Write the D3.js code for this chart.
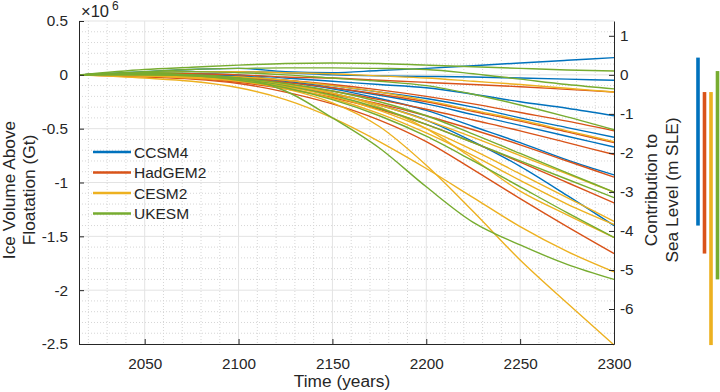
<!DOCTYPE html>
<html>
<head>
<meta charset="utf-8">
<script src="https://cdn.jsdelivr.net/npm/d3@7"></script>
<style>
    body { margin: 0; background: #fff; }
    svg text { font-family: "Liberation Sans", Arial, sans-serif; fill: #262626; }
</style>
</head>
<body>
<div id="chart"></div>
<script>
// sample years shared by every run
const years = [2015, 2050, 2075, 2100, 2125, 2150, 2175, 2200, 2225, 2250, 2275, 2300];

const models = ['CCSM4', 'HadGEM2', 'CESM2', 'UKESM'];
const modelColors = ['#0072BD', '#D95319', '#EDB120', '#77AC30'];

// ice volume above floatation, units of 10^6 Gt
const ccsm4Runs = [
    [0, 0.03, 0.05, 0.06, 0.03, 0.02, 0.04, 0.06, 0.085, 0.11, 0.135, 0.16],
    [0, 0.02, 0.03, 0.03, 0.02, 0.0, -0.01, -0.015, -0.02, -0.03, -0.04, -0.05],
    [0, 0.01, 0.01, 0.0, -0.03, -0.06, -0.09, -0.12, -0.18, -0.25, -0.31, -0.38],
    [0, 0.01, 0.0, -0.01, -0.05, -0.1, -0.16, -0.22, -0.3, -0.4, -0.49, -0.58],
    [0, 0.0, 0.0, -0.02, -0.06, -0.12, -0.19, -0.27, -0.37, -0.47, -0.57, -0.67],
    [0, 0.0, -0.01, -0.03, -0.07, -0.13, -0.22, -0.33, -0.48, -0.63, -0.79, -0.93],
    [0, 0.0, -0.01, -0.04, -0.09, -0.17, -0.28, -0.42, -0.62, -0.85, -1.12, -1.40]
];
const hadgem2Runs = [
    [0, 0.01, 0.01, 0.0, -0.02, -0.03, -0.05, -0.07, -0.09, -0.11, -0.135, -0.16],
    [0, 0.0, -0.01, -0.02, -0.05, -0.09, -0.14, -0.2, -0.27, -0.35, -0.43, -0.52],
    [0, 0.0, -0.01, -0.03, -0.07, -0.12, -0.18, -0.25, -0.34, -0.43, -0.53, -0.63],
    [0, -0.01, -0.02, -0.05, -0.09, -0.15, -0.23, -0.32, -0.42, -0.52, -0.63, -0.74],
    [0, -0.01, -0.02, -0.06, -0.11, -0.18, -0.27, -0.38, -0.51, -0.65, -0.8, -0.95],
    [0, -0.01, -0.03, -0.07, -0.13, -0.21, -0.32, -0.46, -0.63, -0.81, -1.0, -1.19],
    [0, -0.02, -0.04, -0.08, -0.16, -0.27, -0.42, -0.62, -0.88, -1.15, -1.41, -1.66]
];
const cesm2Runs = [
    [0, 0.02, 0.03, 0.03, 0.02, 0.01, -0.01, -0.03, -0.06, -0.09, -0.125, -0.16],
    [0, 0.0, -0.01, -0.02, -0.05, -0.1, -0.16, -0.24, -0.33, -0.42, -0.52, -0.62],
    [0, 0.0, -0.01, -0.04, -0.09, -0.17, -0.28, -0.42, -0.58, -0.75, -0.92, -1.09],
    [0, -0.01, -0.02, -0.05, -0.11, -0.2, -0.33, -0.5, -0.7, -0.92, -1.14, -1.36],
    [0, -0.01, -0.02, -0.05, -0.12, -0.22, -0.36, -0.54, -0.75, -0.98, -1.2, -1.39],
    [0, 0.0, -0.01, -0.04, -0.09, -0.17, -0.3, -0.5, -0.78, -1.08, -1.3, -1.51],
    [0, -0.03, -0.06, -0.12, -0.23, -0.4, -0.62, -0.87, -1.14, -1.41, -1.64, -1.83],
    [0, -0.01, -0.03, -0.06, -0.13, -0.26, -0.48, -0.84, -1.27, -1.72, -2.12, -2.51]
];
const ukesmRuns = [
    [0, 0.05, 0.07, 0.09, 0.105, 0.11, 0.105, 0.09, 0.075, 0.06, 0.045, 0.035],
    [0, 0.03, 0.05, 0.06, 0.065, 0.065, 0.06, 0.05, 0.01, -0.04, -0.09, -0.13],
    [0, 0.02, 0.03, 0.02, 0.0, -0.03, -0.06, -0.1, -0.18, -0.28, -0.39, -0.51],
    [0, 0.01, 0.0, -0.03, -0.08, -0.15, -0.25, -0.38, -0.55, -0.73, -0.91, -1.09],
    [0, 0.0, -0.01, -0.04, -0.1, -0.19, -0.31, -0.46, -0.63, -0.8, -0.97, -1.14],
    [0, 0.0, -0.01, -0.05, -0.12, -0.23, -0.38, -0.57, -0.8, -1.04, -1.28, -1.51],
    [0, 0.01, 0.0, -0.03, -0.15, -0.4, -0.68, -1.04, -1.37, -1.58, -1.76, -1.90]
];
const runsByModel = [ccsm4Runs, hadgem2Runs, cesm2Runs, ukesmRuns];

const xTicks = [2050, 2100, 2150, 2200, 2250, 2300];
const leftTicks = [0.5, 0, -0.5, -1, -1.5, -2, -2.5];
const rightTicks = [1, 0, -1, -2, -3, -4, -5, -6];
const gtPerMetre = 0.3625; // 10^6 Gt of ice per metre of sea level

const width = 720, height = 392;
const margin = { top: 21, right: 106, bottom: 48, left: 79 };
const x0 = margin.left, x1 = width - margin.right;
const y0 = margin.top, y1 = height - margin.bottom;

const svg = d3.select('#chart')
    .append('svg')
    .attr('width', width)
    .attr('height', height);

const x = d3.scaleLinear().domain([2015, 2300]).range([x0, x1]);
const y = d3.scaleLinear().domain([-2.5, 0.5]).range([y1, y0]);
const ySle = d3.scaleLinear().domain([-2.5 / gtPerMetre, 0.5 / gtPerMetre]).range([y1, y0]);

// minor grid (dotted)
const minorX = d3.range(2020, 2300, 10).filter(d => d % 50 !== 0);
const minorY = d3.range(-24, 5).map(d => d / 10).filter(d => Math.round(d * 10) % 5 !== 0);
const grid = svg.append('g');
grid.selectAll('line.mx')
    .data(minorX)
    .join('line')
    .attr('x1', d => x(d)).attr('x2', d => x(d))
    .attr('y1', y0).attr('y2', y1)
    .attr('stroke', '#d6d6d6').attr('stroke-dasharray', '1,2');
grid.selectAll('line.my')
    .data(minorY)
    .join('line')
    .attr('x1', x0).attr('x2', x1)
    .attr('y1', d => y(d)).attr('y2', d => y(d))
    .attr('stroke', '#d6d6d6').attr('stroke-dasharray', '1,2');

// major grid
grid.selectAll('line.gx')
    .data(xTicks.filter(d => d < 2300))
    .join('line')
    .attr('x1', d => x(d)).attr('x2', d => x(d))
    .attr('y1', y0).attr('y2', y1)
    .attr('stroke', '#e3e3e3');
grid.selectAll('line.gy')
    .data(leftTicks.filter(d => d > -2.5))
    .join('line')
    .attr('x1', x0).attr('x2', x1)
    .attr('y1', d => y(d)).attr('y2', d => y(d))
    .attr('stroke', '#e3e3e3');

// runs
const line = d3.line()
    .x((d, i) => x(years[i]))
    .y(d => y(d))
    .curve(d3.curveMonotoneX);

runsByModel.forEach((runs, m) => {
    svg.append('g')
        .selectAll('path')
        .data(runs)
        .join('path')
        .attr('d', line)
        .attr('fill', 'none')
        .attr('stroke', modelColors[m])
        .attr('stroke-width', 1.4);
});

// axes
const axisColor = '#262626';
const tickLen = 5;

const bottomAxis = svg.append('g')
    .attr('transform', `translate(0,${y1})`)
    .call(d3.axisBottom(x).tickValues(xTicks).tickSizeInner(-tickLen).tickSizeOuter(0).tickPadding(14)
        .tickFormat(d3.format('d')));
const leftAxis = svg.append('g')
    .attr('transform', `translate(${x0},0)`)
    .call(d3.axisLeft(y).tickValues(leftTicks).tickSizeInner(-tickLen).tickSizeOuter(0).tickPadding(11));
const rightAxis = svg.append('g')
    .attr('transform', `translate(${x1},0)`)
    .call(d3.axisRight(ySle).tickValues(rightTicks).tickSizeInner(-tickLen).tickSizeOuter(0).tickPadding(6));

[bottomAxis, leftAxis, rightAxis].forEach(a => {
    a.select('.domain').attr('stroke', axisColor);
    a.selectAll('.tick line').attr('stroke', axisColor);
    a.selectAll('.tick text')
        .attr('font-size', '15.3px')
        .attr('fill', axisColor)
        .style('font-family', '"Liberation Sans", Arial, sans-serif');
});
// minus signs as plain hyphens, as in the original
leftAxis.selectAll('.tick text').text(d => String(d));
rightAxis.selectAll('.tick text').text(d => String(d));

// exponent label
const expo = svg.append('text')
    .attr('x', 81)
    .attr('y', 17)
    .attr('font-size', '16.5px');
expo.append('tspan').text('\u00d710');
expo.append('tspan').attr('dx', 3).attr('dy', -7).attr('font-size', '12px').text('6');

// axis titles
svg.append('text')
    .attr('x', 342)
    .attr('y', 387)
    .attr('text-anchor', 'middle')
    .attr('font-size', '17.3px')
    .text('Time (years)');

const leftTitle = ['Ice Volume Above', 'Floatation (Gt)'];
svg.selectAll('text.ltitle')
    .data(leftTitle)
    .join('text')
    .attr('class', 'ltitle')
    .attr('transform', (d, i) => `translate(${15 + i * 20},190) rotate(-90)`)
    .attr('text-anchor', 'middle')
    .attr('font-size', '17.3px')
    .text(d => d);

const rightTitle = ['Contribution to', 'Sea Level (m SLE)'];
svg.selectAll('text.rtitle')
    .data(rightTitle)
    .join('text')
    .attr('class', 'rtitle')
    .attr('transform', (d, i) => `translate(${657 + i * 21},190) rotate(-90)`)
    .attr('text-anchor', 'middle')
    .attr('font-size', '17.3px')
    .text(d => d);

// legend
const legend = svg.append('g');
models.forEach((name, i) => {
    const ly = 152 + i * 20.5;
    legend.append('line')
        .attr('x1', 93).attr('x2', 131)
        .attr('y1', ly).attr('y2', ly)
        .attr('stroke', modelColors[i])
        .attr('stroke-width', 2.5);
    legend.append('text')
        .attr('x', 134)
        .attr('y', ly + 5.5)
        .attr('font-size', '15.5px')
        .text(name);
});

// range of each model in 2300, drawn on the sea-level scale
const finals = runsByModel.map(runs => runs.map(r => r[r.length - 1] / gtPerMetre));
const barX = d3.scalePoint().domain(models).range([698, 717.5]);
svg.append('g')
    .selectAll('rect')
    .data(models)
    .join('rect')
    .attr('x', d => barX(d) - 1.8)
    .attr('width', 3.6)
    .attr('y', (d, i) => ySle(d3.max(finals[i])))
    .attr('height', (d, i) => ySle(d3.min(finals[i])) - ySle(d3.max(finals[i])))
    .attr('fill', (d, i) => modelColors[i]);
</script>
</body>
</html>
